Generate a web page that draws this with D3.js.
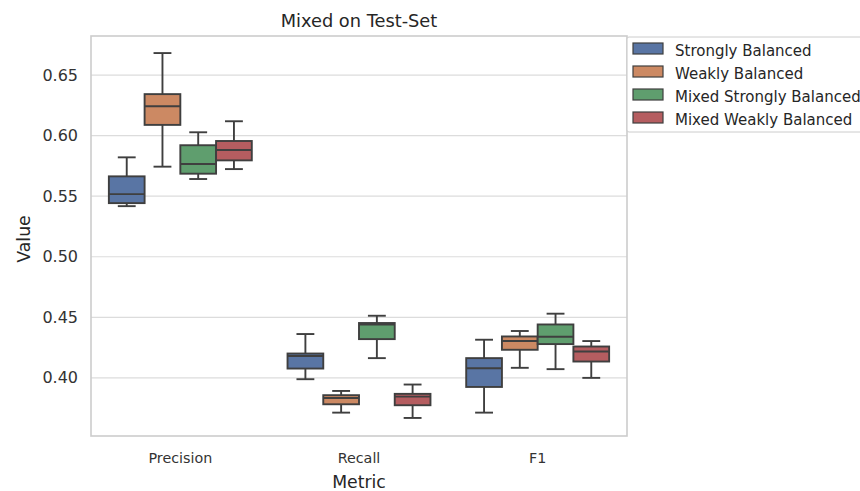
<!DOCTYPE html>
<html>
<head>
<meta charset="utf-8">
<script src="https://cdn.jsdelivr.net/npm/d3@7"></script>
<style>
  body { margin: 0; background: #fff; }
  svg { display: block; font-family: "DejaVu Sans", sans-serif; }
</style>
</head>
<body>
<svg id="chart" width="860" height="491"></svg>
<script>
// Metrics on the x axis and the four training regimes as hues
const metrics = ["Precision", "Recall", "F1"];
const groups = ["Strongly Balanced", "Weakly Balanced", "Mixed Strongly Balanced", "Mixed Weakly Balanced"];
const colors = ["#5975a4", "#cc8963", "#5f9e6e", "#b55d60"];
const yTicks = [0.40, 0.45, 0.50, 0.55, 0.60, 0.65];

// Box summaries per metric: [whiskerLow, q1, median, q3, whiskerHigh], one per group
const precisionStats = [
  [0.5418, 0.5443, 0.5517, 0.5664, 0.5821],
  [0.5744, 0.6089, 0.6243, 0.6343, 0.6682],
  [0.5642, 0.5686, 0.5766, 0.5921, 0.6028],
  [0.5724, 0.5796, 0.5882, 0.5956, 0.6119]
];
const recallStats = [
  [0.3989, 0.4077, 0.4180, 0.4201, 0.4362],
  [0.3713, 0.3782, 0.3834, 0.3857, 0.3892],
  [0.4163, 0.4320, 0.4441, 0.4453, 0.4513],
  [0.3669, 0.3774, 0.3845, 0.3868, 0.3945]
];
const f1Stats = [
  [0.3713, 0.3925, 0.4080, 0.4163, 0.4315],
  [0.4083, 0.4232, 0.4304, 0.4342, 0.4387],
  [0.4072, 0.4279, 0.4339, 0.4441, 0.4530],
  [0.4000, 0.4135, 0.4218, 0.4259, 0.4304]
];
const statsByMetric = [precisionStats, recallStats, f1Stats];

const svg = d3.select("#chart");
const margin = { left: 91, right: 233, top: 36, bottom: 55 };
const W = 860, H = 491;
const x0 = margin.left, x1 = W - margin.right;
const y0 = H - margin.bottom, y1 = margin.top;

const x = d3.scaleBand().domain(metrics).range([x0, x1]);
const xHue = d3.scaleBand().domain(groups).range([0, x.bandwidth() * 0.8]);
const y = d3.scaleLinear().domain([0.352, 0.6823]).range([y0, y1]);

// Horizontal grid
svg.append("g")
  .selectAll("line")
  .data(yTicks)
  .join("line")
  .attr("x1", x0).attr("x2", x1)
  .attr("y1", d => y(d)).attr("y2", d => y(d))
  .attr("stroke", "#dcdcdc").attr("stroke-width", 1.2);

// Axes (tick marks hidden, labels only)
const yAxis = svg.append("g")
  .attr("transform", `translate(${x0},0)`)
  .call(d3.axisLeft(y).tickValues(yTicks).tickFormat(d3.format(".2f")).tickSize(0).tickPadding(13));
yAxis.select(".domain").remove();
yAxis.selectAll("text").attr("font-size", 16).attr("fill", "#333").attr("font-family", "DejaVu Sans");

const xAxis = svg.append("g")
  .attr("transform", `translate(0,${y0})`)
  .call(d3.axisBottom(x).tickSize(0).tickPadding(17));
xAxis.select(".domain").remove();
xAxis.selectAll("text").attr("font-size", 14.3).attr("fill", "#333").attr("font-family", "DejaVu Sans");

// Boxes
const lineColor = "#3f3f3f";
const boxLayer = svg.append("g");
metrics.forEach((m, mi) => {
  const start = x(m) + x.bandwidth() * 0.1;
  groups.forEach((g, gi) => {
    const [lo, q1, med, q3, hi] = statsByMetric[mi][gi];
    const bx = start + xHue(g);
    const bw = xHue.bandwidth();
    const cx = bx + bw / 2;
    const gEl = boxLayer.append("g");
    gEl.append("line").attr("x1", cx).attr("x2", cx).attr("y1", y(q3)).attr("y2", y(hi))
      .attr("stroke", lineColor).attr("stroke-width", 1.9);
    gEl.append("line").attr("x1", cx).attr("x2", cx).attr("y1", y(q1)).attr("y2", y(lo))
      .attr("stroke", lineColor).attr("stroke-width", 1.9);
    [lo, hi].forEach(v => {
      gEl.append("line").attr("x1", cx - bw / 4).attr("x2", cx + bw / 4)
        .attr("y1", y(v)).attr("y2", y(v))
        .attr("stroke", lineColor).attr("stroke-width", 1.9);
    });
    gEl.append("rect").attr("x", bx).attr("y", y(q3))
      .attr("width", bw).attr("height", y(q1) - y(q3))
      .attr("fill", colors[gi]).attr("stroke", lineColor).attr("stroke-width", 1.9);
    gEl.append("line").attr("x1", bx).attr("x2", bx + bw)
      .attr("y1", y(med)).attr("y2", y(med))
      .attr("stroke", lineColor).attr("stroke-width", 1.9);
  });
});

// Plot frame
svg.append("rect")
  .attr("x", x0).attr("y", y1).attr("width", x1 - x0).attr("height", y0 - y1)
  .attr("fill", "none").attr("stroke", "#cccccc").attr("stroke-width", 1.6);

// Title and axis labels
svg.append("text").attr("x", (x0 + x1) / 2).attr("y", 27)
  .attr("text-anchor", "middle").attr("font-size", 17.8).attr("fill", "#262626")
  .text("Mixed on Test-Set");
svg.append("text").attr("x", (x0 + x1) / 2).attr("y", 488)
  .attr("text-anchor", "middle").attr("font-size", 17.3).attr("fill", "#262626")
  .text("Metric");
svg.append("text").attr("transform", `translate(30,239) rotate(-90)`)
  .attr("text-anchor", "middle").attr("font-size", 17.3).attr("fill", "#262626")
  .text("Value");

// Legend
const legend = svg.append("g").attr("transform", "translate(627,37)");
legend.append("rect").attr("x", 0).attr("y", 0).attr("width", 240).attr("height", 95)
  .attr("rx", 2).attr("fill", "#fff").attr("fill-opacity", 0.85)
  .attr("stroke", "#cccccc").attr("stroke-width", 1);
groups.forEach((g, i) => {
  const row = legend.append("g").attr("transform", `translate(6,${6 + i * 23})`);
  row.append("rect").attr("width", 30).attr("height", 11)
    .attr("fill", colors[i]).attr("stroke", lineColor).attr("stroke-width", 1.2);
  row.append("text").attr("x", 42).attr("y", 13).attr("font-size", 15)
    .attr("fill", "#262626").text(g);
});
</script>
</body>
</html>
